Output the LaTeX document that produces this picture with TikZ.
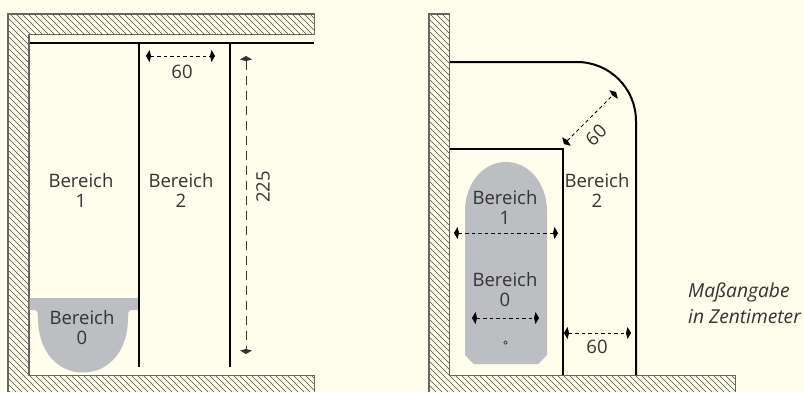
\documentclass[tikz,border=0pt]{standalone}
\usepackage{fontspec}
\setmainfont{Open Sans}
\usetikzlibrary{arrows.meta}
\definecolor{bg}{HTML}{FFFDEB}
\definecolor{zone}{HTML}{BCBEC2}
\definecolor{ink}{HTML}{333333}
\definecolor{wallc}{HTML}{66665E}
\definecolor{hatchc}{HTML}{4A4A44}
\tikzset{
  wallline/.style={draw=wallc,line width=1.2pt},
  hatch/.style={draw=hatchc,line width=0.65pt},
  bound/.style={draw=black,line width=2pt},
  dim/.style={draw=black,line width=0.8pt,dash pattern=on 3.5pt off 3pt,
    {Kite[length=5pt,width=12pt,inset=1.5pt]}-{Kite[length=5pt,width=12pt,inset=1.5pt]}},
  dimlong/.style={dim,draw=ink,dash pattern=on 9pt off 6pt},
  lab/.style={text=ink,font=\fontsize{18.5}{20}\selectfont,align=center,inner sep=0pt},
  note/.style={text=ink,font=\fontsize{19.2}{26.5}\selectfont\itshape,align=left,inner sep=0pt}
}
\newcommand{\hatchfill}{\foreach \k in {-400,-394,...,800}{\draw[hatch] (\k,0) -- (\k+392,392);}}
\begin{document}
\begin{tikzpicture}[x=1pt,y=-1pt]
\fill[bg] (0,0) rectangle (804,392);
\useasboundingbox (0,0) rectangle (804,392);
% left walls
\begin{scope}
\clip (8,14) -- (314.5,14) -- (314.5,34.5) -- (29,34.5) -- (29,375.5) -- (314.5,375.5) -- (314.5,392) -- (8,392) -- cycle;
\hatchfill
\end{scope}
\draw[wallline] (8,392) -- (8,14) -- (314.5,14) -- (314.5,34.5) -- (29,34.5) -- (29,375.5) -- (314.5,375.5) -- (314.5,392);
% left zone 0
\fill[zone] (29.5,298) -- (138,298) -- (138,310) -- (132,310) .. controls (128,310) and (128,313) .. (128,318) .. controls (128,352) and (108,372.5) .. (83,372.5) .. controls (58,372.5) and (38,352) .. (38,318) .. controls (38,313) and (38,310) .. (34,310) -- (29.5,310) -- cycle;
% left boundaries
\draw[bound] (30,43) -- (314,43);
\draw[bound] (139,43) -- (139,367);
\draw[bound] (230,43) -- (230,367);
% right walls
\begin{scope}
\clip (429,14) -- (449.5,14) -- (449.5,375.5) -- (735.5,375.5) -- (735.5,392) -- (429,392) -- cycle;
\hatchfill
\end{scope}
\draw[wallline] (429,392) -- (429,14) -- (449.5,14) -- (449.5,375.5) -- (735.5,375.5) -- (735.5,392);
% right zone
\fill[zone] (465,355) -- (465,212) .. controls (465,182) and (484,162) .. (506,162) .. controls (528,162) and (547,182) .. (547,212) -- (547,355) -- (538,364) -- (474,364) -- cycle;
% right boundaries
\draw[bound] (450,62) -- (577,62) .. controls (609.6,62) and (636,88.4) .. (636,121) -- (636,375);
\draw[bound] (450,149) -- (563,149) -- (563,375);
% dimension anchors
\coordinate (a1) at (146,56); \coordinate (a2) at (215,56);
\coordinate (b1) at (246,56); \coordinate (b2) at (246,354);
\coordinate (c1) at (564,144); \coordinate (c2) at (616,92);
\coordinate (d1) at (454,233); \coordinate (d2) at (558,233);
\coordinate (e1) at (472,318); \coordinate (e2) at (539,318);
\coordinate (f1) at (564,333); \coordinate (f2) at (631,333);
\draw[dim] (a1) -- (a2);
\draw[dimlong] (b1) -- (b2);
\draw[dim] (c1) -- (c2);
\draw[dim] (d1) -- (d2);
\draw[dim] (e1) -- (e2);
\draw[dim] (f1) -- (f2);
\node[circle,draw=ink,line width=0.7pt,inner sep=0pt,minimum size=3.5pt] (dot) at (505.5,342.5) {};
% labels
\node[lab] (t1) at (81,190) {Bereich\\1};
\node[lab] (t2) at (181,190) {Bereich\\2};
\node[lab] (t3) at (82,328) {Bereich\\0};
\node[lab] (t4) at (182,72) {60};
\node[lab,rotate=90] (t5) at (263,187) {225};
\node[lab,rotate=45] (t6) at (596,135) {60};
\node[lab] (t7) at (505,207) {Bereich\\1};
\node[lab] (t8) at (597,190) {Bereich\\2};
\node[lab] (t9) at (505,290) {Bereich\\0};
\node[lab] (t10) at (597,347) {60};
\node[note,anchor=west] (t11) at (688,303) {Maßangabe\\in Zentimeter};
\end{tikzpicture}
\end{document}
